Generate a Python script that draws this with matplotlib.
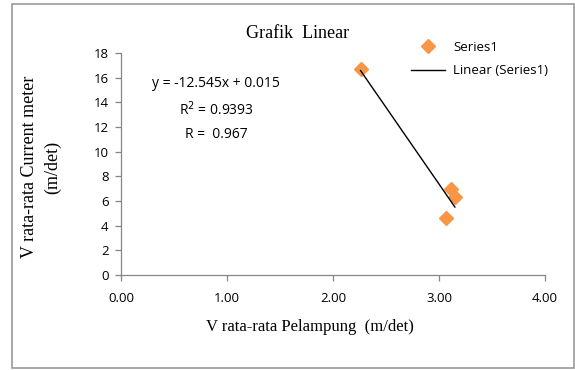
import numpy as np
import matplotlib
matplotlib.use('Agg')
import matplotlib.pyplot as plt
from matplotlib.patches import Rectangle

# data
v_pelampung = [2.26, 3.07, 3.11, 3.15]
v_current = [16.7, 4.6, 7.0, 6.3]
xticks = [0, 1, 2, 3, 4]
yticks = [0, 2, 4, 6, 8, 10, 12, 14, 16, 18]

orange = '#F79646'
grey = '#868686'
sans = ['Open Sans', 'DejaVu Sans']
serif = 'Liberation Serif'

W, H = 575, 370
fig = plt.figure(figsize=(5.75, 3.7), dpi=100)
ax = fig.add_axes([121/W, 1 - 275/H, 424/W, 222/H])

# outer frame of the chart
fig.patches.append(Rectangle((12/W, 2/H), 562/W, 364/H, transform=fig.transFigure,
                             fill=False, edgecolor='#999999', linewidth=1.2))

ax.plot(v_pelampung, v_current, 'D', color=orange, ms=7.5, label='Series1', zorder=3)

k, b = np.polyfit(v_pelampung, v_current, 1)
xs = np.array([min(v_pelampung), max(v_pelampung)])
ax.plot(xs, k*xs + b, color='black', lw=1.0, label='Linear (Series1)', zorder=4)

ax.set_xlim(0, 4)
ax.set_ylim(0, 18)
ax.set_xticks(xticks)
ax.set_xticklabels(['%.2f' % t for t in xticks], family=sans, fontsize=9.5)
ax.set_yticks(yticks)
ax.set_yticklabels([str(t) for t in yticks], family=sans, fontsize=9.5)
for s in ['top', 'right']:
    ax.spines[s].set_visible(False)
for s in ['left', 'bottom']:
    ax.spines[s].set_color(grey)
    ax.spines[s].set_linewidth(0.9)
ax.tick_params(direction='out', length=4, color=grey, width=0.9, pad=5)
ax.tick_params(axis='x', pad=8)

fig.text(298/W, 1 - 33/H, 'Grafik  Linear', family=serif, fontsize=13, ha='center', va='center')
fig.text(310/W, 1 - 327/H, 'V rata-rata Pelampung  (m/det)', family=serif, fontsize=12,
         ha='center', va='center')
fig.text(30/W, 1 - 167/H, 'V rata-rata Current meter', family=serif, fontsize=13,
         ha='center', va='center', rotation=90)
fig.text(53/W, 1 - 167/H, '(m/det)', family=serif, fontsize=13,
         ha='center', va='center', rotation=90)

ax.text(0.225, 0.895, 'y = -12.545x + 0.015\nR$^2$ = 0.9393\nR =  0.967', transform=ax.transAxes,
        ha='center', va='top', family=sans, fontsize=10, linespacing=1.65)

leg = fig.legend(loc='upper left', bbox_to_anchor=(399/W, 1 - 29/H), frameon=False,
                 prop={'family': sans, 'size': 9.5}, handlelength=2.6, labelspacing=0.8,
                 handletextpad=0.6)

fig.savefig('out.png', dpi=100)
